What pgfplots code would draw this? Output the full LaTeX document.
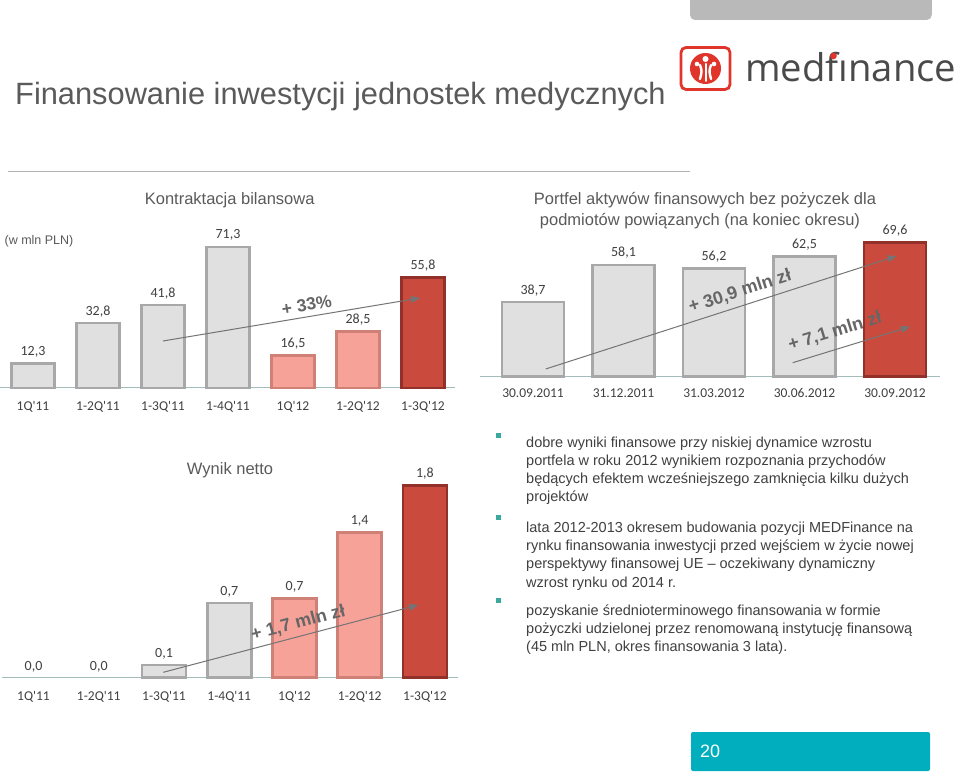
\documentclass[border=0pt]{standalone}
\usepackage{fontspec}
\setmainfont{Liberation Sans}
\newfontfamily\cali{Carlito}
\newfontfamily\logofont{Open Sans}
\usepackage{graphicx}
\usepackage{pgfplots}
\pgfplotsset{compat=1.18}
\usetikzlibrary{arrows.meta}
\definecolor{labc}{HTML}{404040}
\definecolor{titc}{HTML}{5A5A5A}
\definecolor{grayf}{HTML}{E0E0E0}
\definecolor{grayd}{HTML}{A8A8A8}
\definecolor{pinkf}{HTML}{F6A299}
\definecolor{pinkd}{HTML}{CF8077}
\definecolor{redf}{HTML}{CA4B3E}
\definecolor{redd}{HTML}{92302A}
\definecolor{axisc}{HTML}{A3BDBD}
\definecolor{arrc}{HTML}{747474}
\definecolor{annc}{HTML}{666666}
\definecolor{pagec}{HTML}{00AEBD}
\definecolor{bulc}{HTML}{3AA89C}
\definecolor{logored}{HTML}{E0352B}
\definecolor{logotext}{HTML}{4A4A4A}
\pgfplotsset{
  barchart/.style={
    scale only axis, clip=false,
    axis x line*=bottom, axis y line=none,
    x axis line style={draw=axisc, line width=1pt, -},
    major tick length=0pt,
    ymin=0,
    xticklabel style={font=\cali\fontsize{13.5}{15}\selectfont, text=labc, anchor=base, yshift=-22.5pt},
    every node near coord/.append style={font=\cali\fontsize{14}{16}\selectfont, text=labc, anchor=south, yshift=1.5pt},
  },
  gbar/.style={ybar, bar shift=0pt, fill=grayf, draw=grayd, line width=2.5pt, point meta=explicit symbolic, nodes near coords},
  pbar/.style={ybar, bar shift=0pt, fill=pinkf, draw=pinkd, line width=2.5pt, point meta=explicit symbolic, nodes near coords},
  rbar/.style={ybar, bar shift=0pt, fill=redf, draw=redd, line width=2.5pt, point meta=explicit symbolic, nodes near coords},
  zbar/.style={ybar, bar shift=0pt, fill=none, draw=none, point meta=explicit symbolic, nodes near coords},
}
\begin{document}
\begin{tikzpicture}[x=1pt,y=1pt]
\useasboundingbox (0,0) rectangle (960,771);
\fill[white] (0,0) rectangle (960,771);

% header
\fill[gray!55, rounded corners=5pt] (690,760) -- (690,751) -- (931.7,751) -- (931.7,760);
\fill[gray!55] (690,756) rectangle (931.7,771);
\node[anchor=base west, inner sep=0, text=titc, font=\fontsize{30.8}{34}\selectfont] at (15,666) {Finansowanie inwestycji jednostek medycznych};
\draw[gray!60, line width=1.2pt] (8,599.3) -- (690,599.3);

% logo
\draw[logored, line width=2.8pt, rounded corners=5pt] (681,681.5) rectangle (730,723.5);
\fill[logored] (705.5,702.5) circle (15.5);
\fill[white] (705.5,712) circle (3);
\fill[white] (697,707) circle (2.3);
\fill[white] (714,707) circle (2.3);
\draw[white, line width=2.4pt, line cap=round] (700,706) .. controls (702,700) .. (700,692);
\draw[white, line width=2.4pt, line cap=round] (711,706) .. controls (709,700) .. (711,692);
\draw[white, line width=2pt, line cap=round] (705.5,707) -- (705.5,690);
\node[anchor=base west, inner sep=0, text=logotext] at (745,689.3) {\resizebox{211pt}{!}{\logofont medf\char"0131 nance}};
\fill[logored] (833.5,715) circle (3.3);

% chart 1: Kontraktacja bilansowa
\node[text=titc, font=\fontsize{16.5}{18}\selectfont] at (229.7,571) {Kontraktacja bilansowa};
\node[text=titc, font=\fontsize{12.5}{14}\selectfont] at (39,530) {(w mln PLN)};
\begin{axis}[barchart, at={(0pt,383pt)}, anchor=south west,
  width=455pt, height=160pt, xmin=-0.508, xmax=6.492, ymax=80.81,
  bar width=43pt, xtick={0,...,6},
  xticklabels={1Q'11,1-2Q'11,1-3Q'11,1-4Q'11,1Q'12,1-2Q'12,1-3Q'12}]
\addplot[gbar] table[x=x,y=y,meta=lab] {
x y lab
0 12.3 12,3
1 32.8 32,8
2 41.8 41,8
3 71.3 71,3
};
\addplot[pbar] table[x=x,y=y,meta=lab] {
x y lab
4 16.5 16,5
5 28.5 28,5
};
\addplot[rbar] table[x=x,y=y,meta=lab] {
x y lab
6 55.8 55,8
};
\end{axis}
\draw[arrc, line width=1pt, -{Triangle[length=9pt,width=7pt]}] (163,430) -- (420,473);
\node[text=annc, rotate=9.5, font=\bfseries\fontsize{17.5}{19}\selectfont] at (306.7,466) {+ 33\%};

% chart 2: Portfel
\node[text=titc, font=\fontsize{16.5}{18}\selectfont] at (705,571) {Portfel aktywów finansowych bez pożyczek dla};
\node[text=titc, font=\fontsize{16.5}{18}\selectfont] at (700,550) {podmiotów powiązanych (na koniec okresu)};
\begin{axis}[barchart, at={(480pt,394.3pt)}, anchor=south west,
  width=460pt, height=150pt, xmin=-0.586, xmax=4.497, ymax=77.92,
  bar width=62pt, xtick={0,...,4},
  xticklabel style={yshift=1.4pt},
  xticklabels={30.09.2011,31.12.2011,31.03.2012,30.06.2012,30.09.2012}]
\addplot[gbar] table[x=x,y=y,meta=lab] {
x y lab
0 38.7 38,7
1 58.1 58,1
2 56.2 56,2
3 62.5 62,5
};
\addplot[rbar] table[x=x,y=y,meta=lab] {
x y lab
4 69.6 69,6
};
\end{axis}
\draw[arrc, line width=1pt, -{Triangle[length=9pt,width=7pt]}] (545.7,402) -- (896.7,515);
\node[text=annc, rotate=17.8, font=\bfseries\fontsize{18}{20}\selectfont] at (740,479.3) {+ 30,9 mln zł};
\draw[arrc, line width=1pt, -{Triangle[length=9pt,width=7pt]}] (792.7,408.3) -- (910,444.3);
\node[text=annc, rotate=17, font=\bfseries\fontsize{18}{20}\selectfont] at (835,439.3) {+ 7,1 mln zł};

% chart 3: Wynik netto
\node[text=titc, font=\fontsize{16.5}{18}\selectfont] at (230,300.3) {Wynik netto};
\begin{axis}[barchart, at={(2pt,93.3pt)}, anchor=south west,
  width=456pt, height=210pt, xmin=-0.483, xmax=6.506, ymax=1.968,
  bar width=44pt, xtick={0,...,6},
  xticklabel style={yshift=0.2pt},
  xticklabels={1Q'11,1-2Q'11,1-3Q'11,1-4Q'11,1Q'12,1-2Q'12,1-3Q'12}]
\addplot[zbar] table[x=x,y=y,meta=lab] {
x y lab
0 0.0 0,0
1 0.0 0,0
};
\addplot[gbar] table[x=x,y=y,meta=lab] {
x y lab
2 0.12 0,1
3 0.70 0,7
};
\addplot[pbar] table[x=x,y=y,meta=lab] {
x y lab
4 0.74 0,7
5 1.36 1,4
};
\addplot[rbar] table[x=x,y=y,meta=lab] {
x y lab
6 1.80 1,8
};
\end{axis}
\draw[arrc, line width=1pt, -{Triangle[length=9pt,width=7pt]}] (163.3,98.7) -- (418.3,166);
\node[text=annc, rotate=14.8, font=\bfseries\fontsize{18}{20}\selectfont] at (298.3,147.7) {+ 1,7 mln zł};

% bullets
\fill[bulc] (495.5,332.5) rectangle (500.5,337.5);
\fill[bulc] (495.5,251.2) rectangle (500.5,256.2);
\fill[bulc] (495.5,167.8) rectangle (500.5,172.8);
\begin{scope}[every node/.style={anchor=base west, inner sep=0, text=labc, font=\fontsize{14.5}{17}\selectfont}]
\node at (526,323) {dobre wyniki finansowe przy niskiej dynamice wzrostu};
\node at (526,305) {portfela w roku 2012 wynikiem rozpoznania przychodów};
\node at (526,287) {będących efektem wcześniejszego zamknięcia kilku dużych};
\node at (526,269) {projektów};
\node at (526,238) {lata 2012-2013 okresem budowania pozycji MEDFinance na};
\node at (526,220) {rynku finansowania inwestycji przed wejściem w życie nowej};
\node at (526,202) {perspektywy finansowej UE – oczekiwany dynamiczny};
\node at (526,184) {wzrost rynku od 2014 r.};
\node at (526,156) {pozyskanie średnioterminowego finansowania w formie};
\node at (526,138) {pożyczki udzielonej przez renomowaną instytucję finansową};
\node at (526,120) {(45 mln PLN, okres finansowania 3 lata).};
\end{scope}

% page number
\fill[pagec, rounded corners=2pt] (691,0) -- (691,39) -- (930,39) -- (930,0) -- cycle;
\node[anchor=west, inner sep=0, text=white, font=\fontsize{18}{20}\selectfont] at (700,20) {20};
\end{tikzpicture}
\end{document}
